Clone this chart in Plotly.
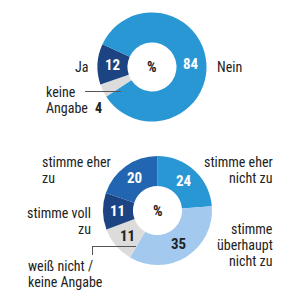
import math
import plotly.graph_objects as go

# ---- data ----
top_labels = ["keine Angabe", "Ja", "Nein"]
top_values = [4, 12, 84]
top_colors = ["#dcdcdc", "#1c4483", "#2a97d5"]

bot_labels = ["stimme eher nicht zu", "stimme überhaupt nicht zu", "weiß nicht / keine Angabe",
              "stimme voll zu", "stimme eher zu"]
bot_values = [24, 35, 11, 11, 20]
bot_colors = ["#2a97d5", "#a3c9ee", "#dcdcdc", "#1c4483", "#2266b1"]
bot_text_colors = ["white", "#222222", "#222222", "white", "white"]

W = H = 300
FONT = "Roboto Condensed, Liberation Sans Narrow, Roboto"
DARK = "#222222"

def px(x):
    return x / W

def py(y):
    return 1 - y / H

# pie geometry (pixels)
top_c = (152, 67)
bot_c = (157.5, 210.5)
R = 54.5
HOLE = 0.45
TOP_ROT = 237
BOT_ROT = 0

fig = go.Figure()
fig.add_trace(go.Pie(
    labels=top_labels, values=top_values, sort=False, direction="clockwise",
    rotation=TOP_ROT, hole=HOLE, marker=dict(colors=top_colors, line=dict(width=0)),
    textinfo="none", hoverinfo="label+value", showlegend=False,
    domain=dict(x=[px(top_c[0] - R), px(top_c[0] + R)], y=[py(top_c[1] + R), py(top_c[1] - R)]),
))
fig.add_trace(go.Pie(
    labels=bot_labels, values=bot_values, sort=False, direction="clockwise",
    rotation=BOT_ROT, hole=HOLE, marker=dict(colors=bot_colors, line=dict(width=0)),
    textinfo="none", hoverinfo="label+value", showlegend=False,
    domain=dict(x=[px(bot_c[0] - R), px(bot_c[0] + R)], y=[py(bot_c[1] + R), py(bot_c[1] - R)]),
))

ann = []

def slice_label_positions(values, rot, center):
    tot = sum(values)
    rm = R * (1 + HOLE) / 2
    a = rot
    out = []
    for v in values:
        span = v / tot * 360
        mid = math.radians(a + span / 2)
        out.append((center[0] + rm * math.sin(mid), center[1] - rm * math.cos(mid)))
        a += span
    return out

def add_text(x, y, text, anchor="center", bold=False, color=DARK, size=14):
    ann.append(dict(x=px(x), y=py(y), xref="paper", yref="paper", text=text, showarrow=False,
                    xanchor=anchor, yanchor="middle", borderpad=0,
                    font=dict(family=FONT, size=size, color=color,
                              weight="bold" if bold else "normal")))

# top slice numbers (not the tiny 4)
tp = slice_label_positions(top_values, TOP_ROT, top_c)
for i, (x, y) in enumerate(tp):
    if top_values[i] >= 10:
        add_text(x, y, str(top_values[i]), bold=True, color="white", size=15)
add_text(98, 108, str(top_values[0]), bold=True, size=14)

bp = slice_label_positions(bot_values, BOT_ROT, bot_c)
for i, (x, y) in enumerate(bp):
    add_text(x, y, str(bot_values[i]), bold=True, color=bot_text_colors[i], size=15)

# centres
add_text(top_c[0], top_c[1], "%", bold=True, size=15)
add_text(bot_c[0], bot_c[1], "%", bold=True, size=15)

# outer labels top
add_text(89, 67, "Ja", anchor="right")
add_text(216, 67, "Nein", anchor="left")
add_text(45, 92, "keine", anchor="left")
add_text(45, 108, "Angabe", anchor="left")

# outer labels bottom
for y, t in [(162, "stimme eher"), (178, "zu")]:
    add_text(41, y, t, anchor="left")
for y, t in [(162, "stimme eher"), (178, "nicht zu")]:
    add_text(274, y, t, anchor="right")
for y, t in [(213, "stimme voll"), (229, "zu")]:
    add_text(92, y, t, anchor="right")
for y, t in [(229, "stimme"), (245, "überhaupt"), (261, "nicht zu")]:
    add_text(274, y, t, anchor="right")
for y, t in [(266, "weiß nicht /"), (282, "keine Angabe")]:
    add_text(27, y, t, anchor="left")

line = dict(color="#555555", width=1)
shapes = [
    dict(type="line", xref="paper", yref="paper", x0=px(85), x1=px(121), y0=py(91.5), y1=py(91.5), line=line),
    dict(type="line", xref="paper", yref="paper", x0=px(92), x1=px(136), y0=py(246.5), y1=py(246.5), line=line),
    dict(type="line", xref="paper", yref="paper", x0=px(92.5), x1=px(92.5), y0=py(246.5), y1=py(255), line=line),
]

fig.update_layout(width=W, height=H, margin=dict(l=0, r=0, t=0, b=0),
                  paper_bgcolor="white", plot_bgcolor="white",
                  annotations=ann, shapes=shapes, font=dict(family=FONT))
fig.write_html("out.html")
